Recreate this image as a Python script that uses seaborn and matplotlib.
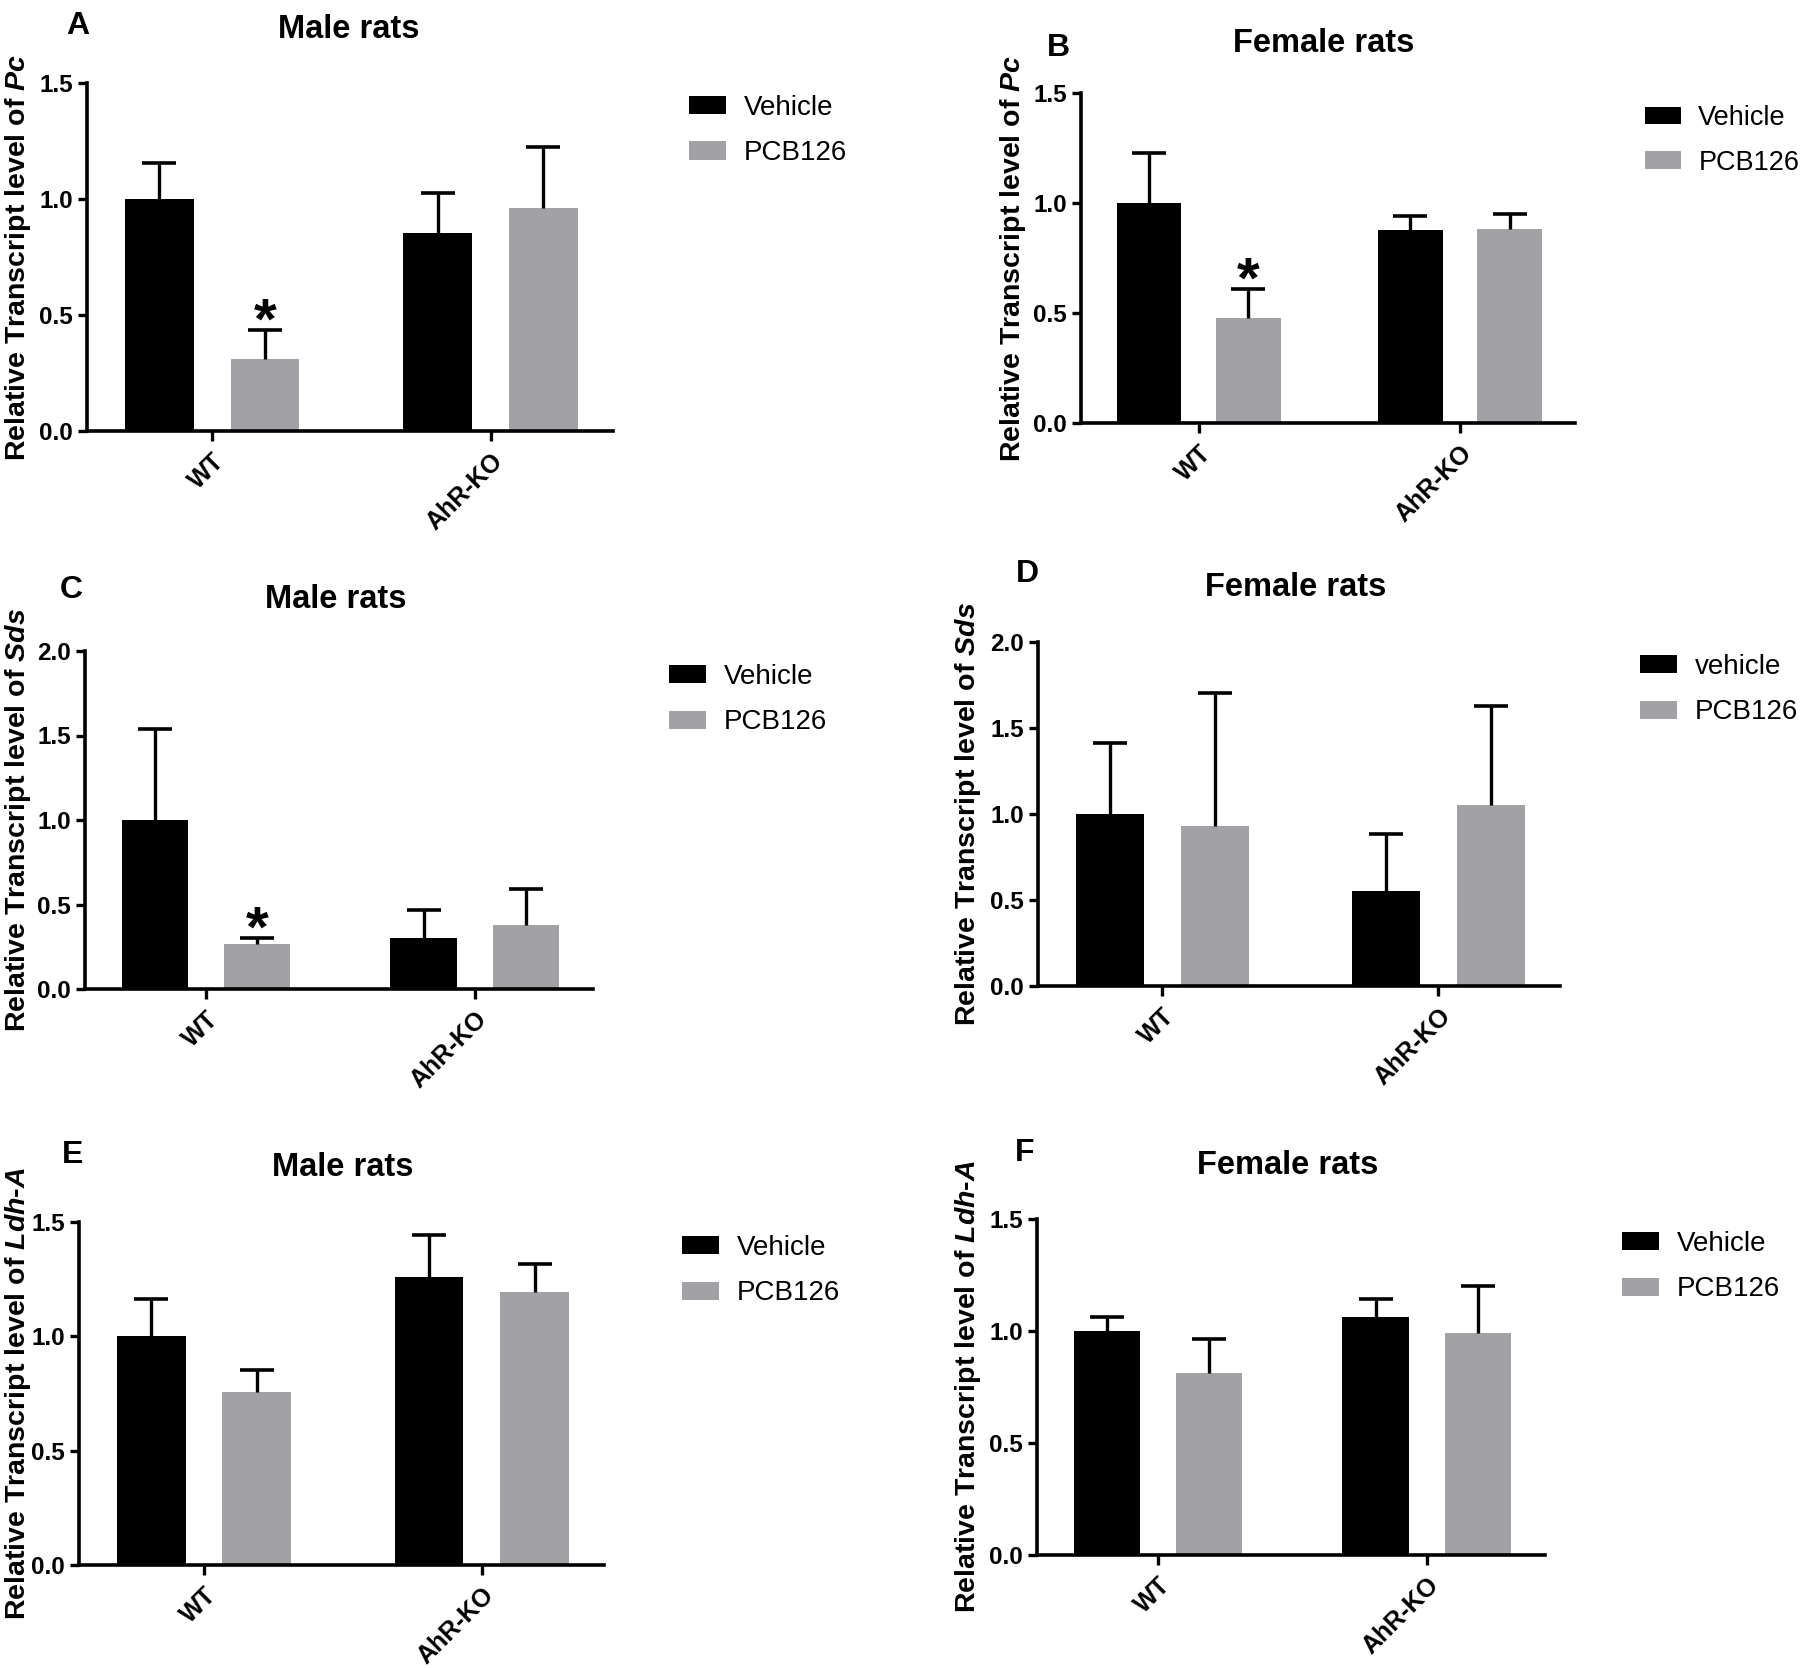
import numpy as np
import pandas as pd
import matplotlib.pyplot as plt
import seaborn as sns
from matplotlib.patches import Patch

sns.set_theme(style="ticks")
plt.rcParams['font.family'] = ['Liberation Sans', 'DejaVu Sans']
plt.rcParams['text.color'] = 'black'
plt.rcParams['axes.labelcolor'] = 'black'
plt.rcParams['xtick.color'] = 'black'
plt.rcParams['ytick.color'] = 'black'
plt.rcParams['mathtext.fontset'] = 'custom'
plt.rcParams['mathtext.rm'] = 'Liberation Sans'
plt.rcParams['mathtext.it'] = 'Liberation Sans:italic'
plt.rcParams['mathtext.bf'] = 'Liberation Sans:bold'
if 'mathtext.bfit' in plt.rcParams:
    plt.rcParams['mathtext.bfit'] = 'Liberation Sans:bold:italic'

genotypes = ['WT', 'AhR-KO']
treatments = ['Vehicle', 'PCB126']
bar_colors = ['#000000', '#A2A2A6']

# Pc, male (A)
pc_male_vehicle = [1.00, 0.855]
pc_male_vehicle_err = [0.157, 0.17]
pc_male_pcb = [0.31, 0.96]
pc_male_pcb_err = [0.125, 0.265]

# Pc, female (B)
pc_female_vehicle = [1.00, 0.877]
pc_female_vehicle_err = [0.227, 0.066]
pc_female_pcb = [0.477, 0.884]
pc_female_pcb_err = [0.132, 0.065]

# Sds, male (C)
sds_male_vehicle = [1.00, 0.302]
sds_male_vehicle_err = [0.54, 0.168]
sds_male_pcb = [0.268, 0.376]
sds_male_pcb_err = [0.032, 0.214]

# Sds, female (D)
sds_female_vehicle = [1.00, 0.55]
sds_female_vehicle_err = [0.41, 0.331]
sds_female_pcb = [0.933, 1.054]
sds_female_pcb_err = [0.769, 0.575]

# Ldh-A, male (E)
ldh_male_vehicle = [1.00, 1.26]
ldh_male_vehicle_err = [0.163, 0.183]
ldh_male_pcb = [0.758, 1.195]
ldh_male_pcb_err = [0.093, 0.121]

# Ldh-A, female (F)
ldh_female_vehicle = [1.00, 1.064]
ldh_female_vehicle_err = [0.0625, 0.08]
ldh_female_pcb = [0.8125, 0.99]
ldh_female_pcb_err = [0.153, 0.213]

W, H = 1800, 1668
fig = plt.figure(figsize=(18, 16.68), dpi=100)

# axes box px (left, top, right, bottom), text positions in px from top-left
panels = [
    dict(letter='A', title='Male rats', gene=r'$\bfit{Pc}$',
         vals=(pc_male_vehicle, pc_male_vehicle_err, pc_male_pcb, pc_male_pcb_err),
         ymax=1.5, box=(87, 83, 613, 431), letter_xy=(78, 26), title_xy=(349, 29),
         leg_xy=(689, 95), leg_fs=20, ylab_x=33, star=True, labels=treatments),
    dict(letter='B', title='Female rats', gene=r'$\bfit{Pc}$',
         vals=(pc_female_vehicle, pc_female_vehicle_err, pc_female_pcb, pc_female_pcb_err),
         ymax=1.5, box=(1081, 93, 1575, 423), letter_xy=(1058, 48), title_xy=(1324, 43),
         leg_xy=(1645, 105), leg_fs=19.5, ylab_x=1028, star=True, labels=treatments),
    dict(letter='C', title='Male rats', gene=r'$\bfit{Sds}$',
         vals=(sds_male_vehicle, sds_male_vehicle_err, sds_male_pcb, sds_male_pcb_err),
         ymax=2.0, box=(85, 651, 593, 989), letter_xy=(71, 590), title_xy=(336, 600),
         leg_xy=(669, 664), leg_fs=20, ylab_x=33, star=True, labels=treatments),
    dict(letter='D', title='Female rats', gene=r'$\bfit{Sds}$',
         vals=(sds_female_vehicle, sds_female_vehicle_err, sds_female_pcb, sds_female_pcb_err),
         ymax=2.0, box=(1038, 642, 1560, 986), letter_xy=(1027, 574), title_xy=(1296, 588),
         leg_xy=(1640, 654), leg_fs=20, ylab_x=983, star=False, labels=['vehicle', 'PCB126']),
    dict(letter='E', title='Male rats', gene=r'$\bfit{Ldh}$-$\bfit{A}$',
         vals=(ldh_male_vehicle, ldh_male_vehicle_err, ldh_male_pcb, ldh_male_pcb_err),
         ymax=1.5, box=(79, 1222, 604, 1565), letter_xy=(73, 1155), title_xy=(343, 1168),
         leg_xy=(682, 1235), leg_fs=20, ylab_x=33, star=False, labels=treatments),
    dict(letter='F', title='Female rats', gene=r'$\bfit{Ldh}$-$\bfit{A}$',
         vals=(ldh_female_vehicle, ldh_female_vehicle_err, ldh_female_pcb, ldh_female_pcb_err),
         ymax=1.5, box=(1037, 1219, 1545, 1555), letter_xy=(1025, 1153), title_xy=(1288, 1166),
         leg_xy=(1622, 1231), leg_fs=20, ylab_x=983, star=False, labels=treatments),
]

for p in panels:
    l, t, r, b = p['box']
    ax = fig.add_axes([l / W, 1 - b / H, (r - l) / W, (b - t) / H])
    veh, veh_err, pcb, pcb_err = p['vals']
    df = pd.DataFrame({
        'Genotype': genotypes * 2,
        'Treatment': [treatments[0]] * 2 + [treatments[1]] * 2,
        'Level': list(veh) + list(pcb),
        'Err': list(veh_err) + list(pcb_err),
    })
    sns.barplot(data=df, x='Genotype', y='Level', hue='Treatment', order=genotypes,
                hue_order=treatments, palette=bar_colors, width=0.76, gap=0.35,
                errorbar=None, saturation=1, legend=False, ax=ax, linewidth=0)

    # upper-only error bars (SEM) above each bar
    for cont, trt in zip(ax.containers, treatments):
        sub = df[df['Treatment'] == trt].set_index('Genotype').loc[genotypes]
        xs = [bar.get_x() + bar.get_width() / 2 for bar in cont]
        ys = sub['Level'].values
        errs = sub['Err'].values
        eb = ax.errorbar(xs, ys, yerr=[np.zeros_like(errs), errs], fmt='none',
                         ecolor='black', elinewidth=2.4, capsize=12, capthick=2.6,
                         zorder=3)
        for cap in eb[1]:
            if np.allclose(cap.get_ydata(), ys):
                cap.set_visible(False)
        if p['star'] and trt == 'PCB126':
            ax.annotate('*', (xs[0], ys[0] + errs[0]), xytext=(0, -6),
                        textcoords='offset points', ha='center', va='baseline',
                        fontsize=42, fontweight='bold', color='black')

    ax.set_xlim(-0.45, 1.44)
    ax.set_ylim(0, p['ymax'])
    yt = np.arange(0, p['ymax'] + 0.01, 0.5)
    ax.set_yticks(yt)
    ax.set_yticklabels([f'{v:.1f}' for v in yt], fontsize=17.5, fontweight='bold')
    ax.set_xticks([0, 1])
    ax.set_xticklabels(genotypes, rotation=45, ha='right', rotation_mode='anchor',
                       fontsize=18, fontweight='bold')
    ax.tick_params(axis='y', length=6.5, width=2.4, pad=3.5)
    ax.tick_params(axis='x', length=7, width=2.4, pad=6)
    sns.despine(ax=ax)
    for side in ['left', 'bottom']:
        ax.spines[side].set_linewidth(2.6)
        ax.spines[side].set_color('black')
    ax.set_xlabel('')
    ax.set_ylabel('Relative Transcript level of ' + p['gene'], fontsize=20.5,
                  fontweight='bold')
    ax.yaxis.set_label_coords((p['ylab_x'] - l) / (r - l), 0.5)

    handles = [Patch(facecolor=c, edgecolor='none') for c in bar_colors]
    ax.legend(handles, p['labels'], loc='upper left',
              bbox_to_anchor=(p['leg_xy'][0] / W, 1 - p['leg_xy'][1] / H),
              bbox_transform=fig.transFigure, frameon=False, fontsize=p['leg_fs'],
              handlelength=1.32, handleheight=0.64, handletextpad=0.65,
              labelspacing=0.7, borderpad=0, borderaxespad=0)

    fig.text(p['letter_xy'][0] / W, 1 - p['letter_xy'][1] / H, p['letter'],
             ha='center', va='center', fontsize=23, fontweight='bold')
    fig.text(p['title_xy'][0] / W, 1 - p['title_xy'][1] / H, p['title'],
             ha='center', va='center', fontsize=23.5, fontweight='bold')

fig.savefig('out.png', dpi=100, facecolor='white')
